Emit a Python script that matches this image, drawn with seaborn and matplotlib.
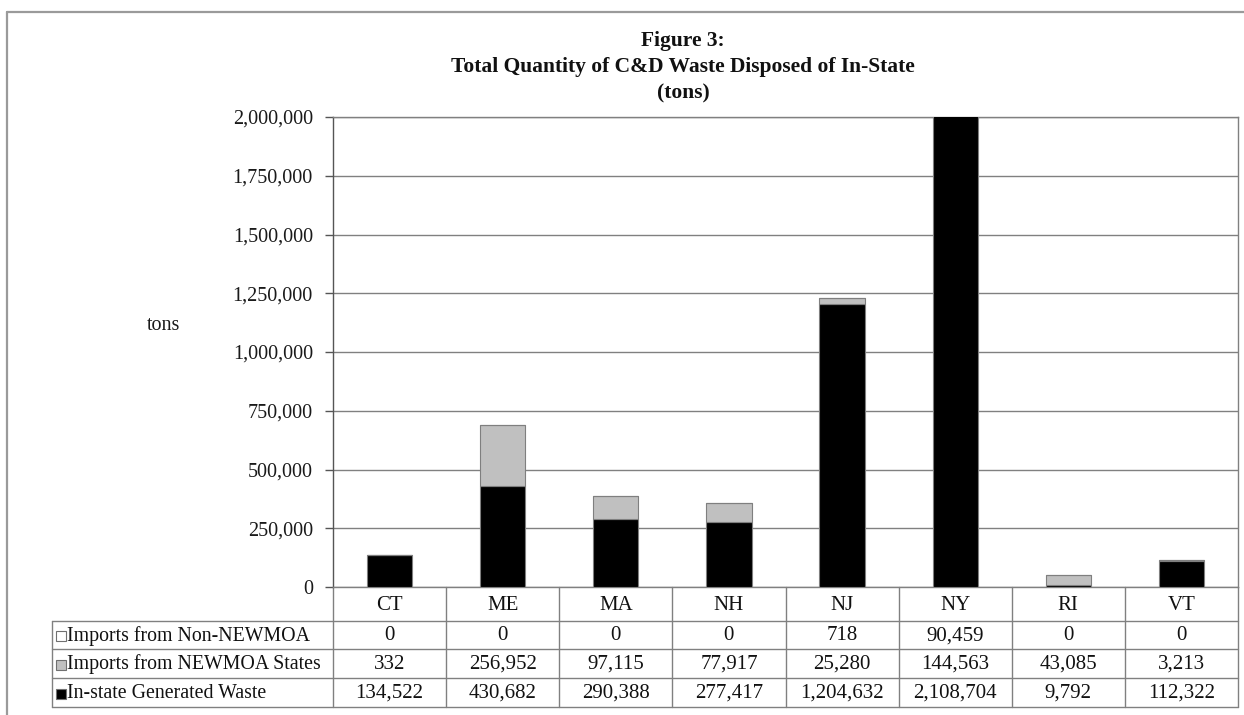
import matplotlib
matplotlib.use("Agg")
import matplotlib.pyplot as plt
import matplotlib.transforms as mtransforms
from matplotlib.lines import Line2D
from matplotlib.ticker import FuncFormatter
import seaborn as sns

# C&D waste disposed of in-state, by state (tons)
states = ["CT", "ME", "MA", "NH", "NJ", "NY", "RI", "VT"]
in_state_generated = [134522, 430682, 290388, 277417, 1204632, 2108704, 9792, 112322]
imports_newmoa = [332, 256952, 97115, 77917, 25280, 144563, 43085, 3213]
imports_non_newmoa = [0, 0, 0, 0, 718, 90459, 0, 0]

series_names = ["Imports from Non-NEWMOA", "Imports from NEWMOA States", "In-state Generated Waste"]
series_values = [imports_non_newmoa, imports_newmoa, in_state_generated]
series_colors = ["#ffffff", "#c0c0c0", "#000000"]

title_lines = ["Figure 3:", "Total Quantity of C&D Waste Disposed of In-State", "(tons)"]
y_ticks = [0, 250000, 500000, 750000, 1000000, 1250000, 1500000, 1750000, 2000000]

sns.set_style("white")
plt.rcParams["font.family"] = ["Liberation Serif", "DejaVu Serif"]

W, H = 1244, 715
fig = plt.figure(figsize=(W / 100, H / 100), dpi=100)
fig.patch.set_facecolor("white")

# plot area in pixel terms
L, R, T, B = 333, 1238, 117, 587
ax = fig.add_axes([L / W, 1 - B / H, (R - L) / W, (B - T) / H])

edge = "#7f7f7f"
grid = "#808080"

# stacked bars
bottom_newmoa = in_state_generated
bottom_non = [a + b for a, b in zip(in_state_generated, imports_newmoa)]
sns.barplot(x=states, y=in_state_generated, color=series_colors[2], saturation=1,
            width=0.4, edgecolor=edge, linewidth=0.8, ax=ax, zorder=3)
sns.barplot(x=states, y=imports_newmoa, bottom=bottom_newmoa, color=series_colors[1],
            saturation=1, width=0.4, edgecolor=edge, linewidth=0.8, ax=ax, zorder=3)
sns.barplot(x=states, y=imports_non_newmoa, bottom=bottom_non, color=series_colors[0],
            saturation=1, width=0.4, edgecolor=edge, linewidth=0.8, ax=ax, zorder=3)

ax.set_xlim(-0.5, len(states) - 0.5)
ax.set_ylim(0, 2000000)
ax.set_yticks(y_ticks)
ax.yaxis.set_major_formatter(FuncFormatter(lambda v, p: f"{int(v):,}"))
ax.set_xlabel("")
ax.set_ylabel("")
ax.tick_params(axis="x", length=0, labelbottom=False)
ax.tick_params(axis="y", length=6, width=1, color="#555555", direction="out",
               pad=8.5, labelsize=14.5, labelcolor="#1a1a1a", left=True)
ax.yaxis.grid(True, color=grid, linewidth=1.0, zorder=0)
ax.set_axisbelow(True)
for side, sp in ax.spines.items():
    sp.set_visible(True)
    sp.set_color(grid)
    sp.set_linewidth(1.0)
ax.spines["left"].set_color("#555555")

# data table under the plot
def ay(py):
    return (B - py) / (B - T)

def ax_x(px):
    return (px - L) / (R - L)

blend = mtransforms.blended_transform_factory(ax.transData, ax.transAxes)
row_edges = [B, 621, 649, 678, 707]
line_kw = dict(color="#808080", linewidth=1.0, clip_on=False)

for i in range(len(states) + 1):
    ax.add_line(Line2D([i - 0.5, i - 0.5], [ay(row_edges[0]), ay(row_edges[-1])],
                       transform=blend, **line_kw))
for py in row_edges[1:]:
    ax.add_line(Line2D([ax_x(52), 1.0], [ay(py), ay(py)], transform=ax.transAxes, **line_kw))
ax.add_line(Line2D([ax_x(52), ax_x(52)], [ay(row_edges[1]), ay(row_edges[-1])],
                   transform=ax.transAxes, **line_kw))

fs = 15
hdr_y = ay((row_edges[0] + row_edges[1]) / 2 + 1)
for i, s in enumerate(states):
    ax.text(i, hdr_y, s, transform=blend, ha="center", va="center", fontsize=fs, color="#111111")

for r, (name, vals, col) in enumerate(zip(series_names, series_values, series_colors)):
    cy = ay((row_edges[r + 1] + row_edges[r + 2]) / 2 + 1)
    ax.plot([ax_x(61)], [cy], marker="s", markersize=6.5, markerfacecolor=col,
            markeredgecolor="#707070", markeredgewidth=0.8, transform=ax.transAxes,
            clip_on=False, linestyle="none")
    ax.text(ax_x(67), cy, name, transform=ax.transAxes, ha="left", va="center",
            fontsize=14.3, color="#111111")
    for i, v in enumerate(vals):
        ax.text(i, cy, f"{v:,}", transform=blend, ha="center", va="center",
                fontsize=fs, color="#111111")

# axis caption
fig.text(164 / W, 1 - 325 / H, "tons", ha="center", va="center", fontsize=14.5, color="#1a1a1a")

# title block
fig.text(683 / W, 1 - 67 / H, "\n".join(title_lines), ha="center", va="center",
         fontsize=15.5, fontweight="bold", linespacing=1.42, color="#111111")

# chart frame
fig.add_artist(Line2D([7 / W, 7 / W], [0, 1 - 12 / H], transform=fig.transFigure,
                      color="#9a9a9a", linewidth=1.6))
fig.add_artist(Line2D([7 / W, 1.0], [1 - 12 / H, 1 - 12 / H], transform=fig.transFigure,
                      color="#9a9a9a", linewidth=1.6))

fig.savefig("out.png", dpi=100, facecolor="white")
